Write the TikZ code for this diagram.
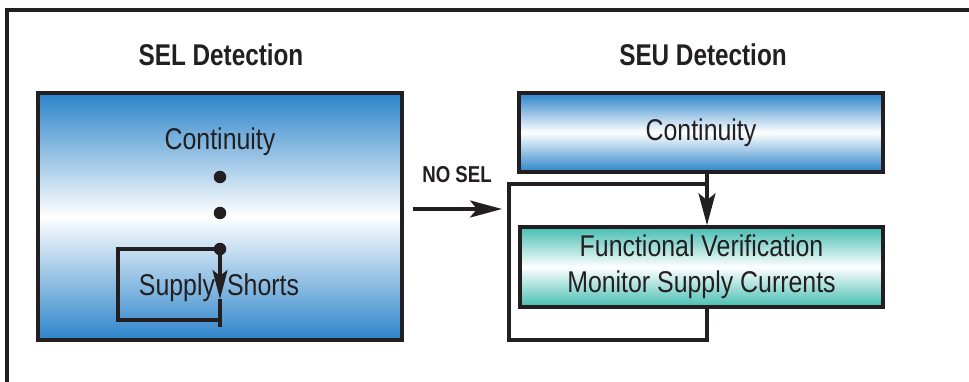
\documentclass[tikz,border=0pt]{standalone}
\usepackage{fontspec}
\setmainfont{Liberation Sans}
\newfontfamily\condf[FakeStretch=0.83]{Liberation Sans}
\newfontfamily\condbf[FakeStretch=0.81]{Liberation Sans Bold}
\usetikzlibrary{arrows.meta}
\definecolor{selblue}{RGB}{44,132,202}
\definecolor{tealc}{RGB}{68,189,177}
\definecolor{linec}{RGB}{35,31,32}
\begin{document}
\begin{tikzpicture}[x=1pt,y=-1pt,
  box/.style={draw=linec, line width=3.6pt, inner sep=0pt},
  bluebox/.style={box, top color=selblue, bottom color=selblue, middle color=white},
  tealbox/.style={box, top color=tealc, bottom color=tealc, middle color=white},
  conn/.style={draw=linec, line width=3.2pt},
  arr/.style={conn, -{Stealth[length=32pt,width=17pt,inset=7pt]}},
  arrs/.style={conn, -{Stealth[length=29pt,width=15pt,inset=6pt]}},
  ttl/.style={font=\condbf\fontsize{30}{34}\selectfont, text=linec, inner sep=0pt},
  sttl/.style={font=\condbf\fontsize{23}{26}\selectfont, text=linec, inner sep=0pt},
  txt/.style={font=\condf\fontsize{30}{36}\selectfont, text=linec},
  dotn/.style={circle, fill=linec, inner sep=0pt, minimum size=12.5pt}
]
\useasboundingbox (0,0) rectangle (969,382);
\fill[white] (0,0) rectangle (969,382);
% outer frame
\draw[line width=3.4pt, linec] (7,382) -- (7,10) -- (969,10);

% titles
\node[ttl] (selt) at (221,55) {SEL Detection};
\node[ttl] (seut) at (703,55) {SEU Detection};

% SEL box
\node[bluebox, minimum width=364pt, minimum height=247pt] (selbox) at (220,216.5) {};
\node[txt, inner sep=0pt] (cont1) at (220,142) {Continuity};
\node[dotn] (d1) at (220,177) {};
\node[dotn] (d2) at (220,213) {};
\node[dotn] (d3) at (220,249) {};
\node[txt, inner sep=0pt] (ss) at (219,288) {Supply\hspace{12pt}Shorts};
\coordinate (l1) at (118,249);
\coordinate (l2) at (118,320);
\coordinate (l3) at (219,320);
\coordinate (a1) at (220,299);
\coordinate (a2) at (220,327);
\draw[conn] (d3.center) -- (l1) -- (l2) -- (l3);
\draw[arrs] (d3.center) -- (a1);
\draw[conn] (a1) -- (a2);

% NO SEL
\node[sttl] (nosel) at (457,175) {NO SEL};
\coordinate (ns1) at (413,209);
\coordinate (ns2) at (502,209);
\draw[arr] (ns1) -- (ns2);

% SEU boxes
\node[bluebox, txt, minimum width=364pt, minimum height=79pt] (cont2) at (701,132.5) {Continuity};
\node[tealbox, txt, align=center, minimum width=363pt, minimum height=80pt] (fv) at (701.5,267) {Functional Verification\\Monitor Supply Currents};
\coordinate (j) at (707,184);
\coordinate (c1) at (707,340);
\coordinate (c2) at (509,340);
\coordinate (c3) at (509,184);
\draw[arr] (cont2.south -| j) -- (fv.north -| j);
\draw[conn] (fv.south -| j) -- (c1) -- (c2) -- (c3) -- (j);
\end{tikzpicture}
\end{document}
